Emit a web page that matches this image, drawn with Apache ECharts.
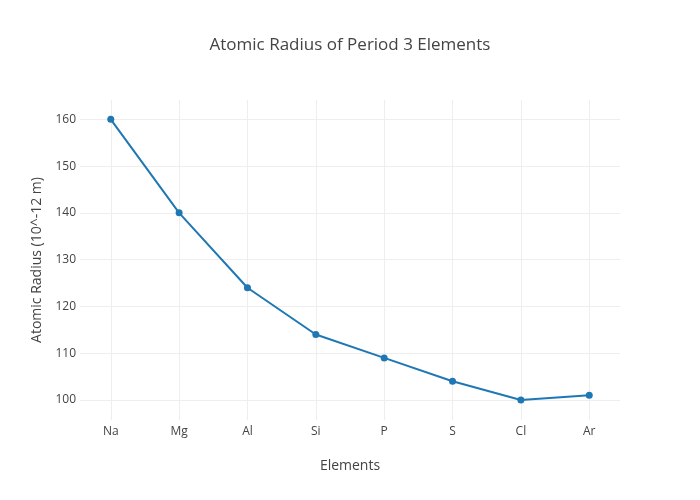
<!DOCTYPE html>
<html>
<head>
<meta charset="utf-8">
<script src="https://cdn.jsdelivr.net/npm/echarts@6/dist/echarts.min.js"></script>
<style>html,body{margin:0;padding:0;background:#fff}#c{width:700px;height:500px}</style>
</head>
<body>
<div id="c"></div>
<script>
const categories = ['Na', 'Mg', 'Al', 'Si', 'P', 'S', 'Cl', 'Ar'];
const radius = [160, 140, 124, 114, 109, 104, 100, 101];
const yTicks = [100, 110, 120, 130, 140, 150, 160];

const xIdx = categories.map((_, i) => i);
const chart = echarts.init(document.getElementById('c'), null, {renderer: 'canvas'});
const font = '"Open Sans", "Noto Sans", sans-serif';
chart.setOption({
  backgroundColor: '#fff',
  animation: false,
  title: {
    text: 'Atomic Radius of Period 3 Elements',
    left: 'center', top: 32,
    textStyle: {fontFamily: font, fontSize: 17, fontWeight: 'normal', color: '#444'}
  },
  grid: {left: 80, right: 80, top: 100, bottom: 80},
  xAxis: {
    type: 'value', min: -0.45, max: 7.45,
    name: 'Elements', nameLocation: 'middle', nameGap: 39,
    nameTextStyle: {fontFamily: font, fontSize: 14, color: '#444'},
    axisLine: {show: false},
    axisTick: {show: false, customValues: xIdx},
    axisLabel: {customValues: xIdx, formatter: v => categories[Math.round(v)], fontFamily: font, fontSize: 12, color: '#444', margin: 6},
    splitLine: {show: true, lineStyle: {color: '#eee', width: 1}}
  },
  yAxis: {
    type: 'value', min: 95.72, max: 164.13,
    name: 'Atomic Radius (10^-12 m)', nameLocation: 'middle', nameGap: 36,
    nameTextStyle: {fontFamily: font, fontSize: 14, color: '#444'},
    axisLine: {show: false},
    axisTick: {show: false, customValues: yTicks},
    axisLabel: {customValues: yTicks, fontFamily: font, fontSize: 12, color: '#444', margin: 4},
    splitLine: {show: true, lineStyle: {color: '#eee', width: 1}}
  },
  series: [{
    type: 'line',
    data: xIdx.map(i => [i, radius[i]]),
    symbol: 'circle', symbolSize: 7,
    lineStyle: {color: '#1f77b4', width: 2},
    itemStyle: {color: '#1f77b4'}
  }]
});
</script>
</body>
</html>
